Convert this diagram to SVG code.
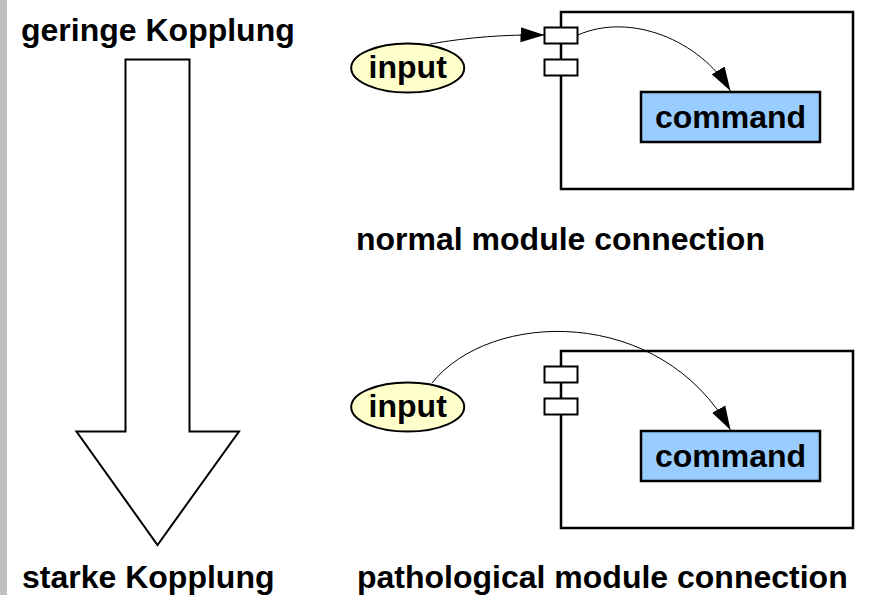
<svg xmlns="http://www.w3.org/2000/svg" width="872" height="595" viewBox="0 0 872 595">
  <style>
    .t { font-family: "Liberation Sans", Arial, sans-serif; font-weight: bold; font-size: 32px; fill: #000; }
    .mod { fill: #fff; stroke: #000; stroke-width: 2.5; }
    .port { fill: #fff; stroke: #000; stroke-width: 2; }
    .cmd { fill: #99ccff; stroke: #000; stroke-width: 2.5; }
    .inp { fill: #ffffcc; stroke: #000; stroke-width: 2; }
    .conn { fill: none; stroke: #000; stroke-width: 1; marker-end: url(#ah); }
  </style>
  <defs>
    <marker id="ah" markerUnits="userSpaceOnUse" markerWidth="24" markerHeight="16" refX="24" refY="8" orient="auto">
      <path d="M0,0.5 L24,8 L0,15.5 z" fill="#000"/>
    </marker>
  </defs>
  <rect x="0" y="0" width="872" height="595" fill="#fff"/>
  <rect x="0" y="0" width="7" height="595" fill="#c0c0c0"/>

  <g id="scale">
    <polygon points="125.5,59.5 189.5,59.5 189.5,431.5 239,431.5 157.5,545 76.5,431.5 125.5,431.5" fill="#fff" stroke="#000" stroke-width="2"/>
    <text class="t" x="21" y="41">geringe Kopplung</text>
    <text class="t" x="22" y="588">starke Kopplung</text>
  </g>

  <g id="module-normal">
    <rect class="mod" x="561" y="12" width="292" height="177"/>
    <rect class="port" x="544.5" y="27.5" width="33" height="16"/>
    <rect class="port" x="544.5" y="59.5" width="33" height="16"/>
  </g>
  <g id="command-normal">
    <rect class="cmd" x="641" y="92" width="179" height="50"/>
    <text class="t" x="730.5" y="128" text-anchor="middle">command</text>
  </g>
  <g id="input-normal">
    <ellipse class="inp" cx="407.7" cy="68" rx="56.5" ry="24.5"/>
    <text class="t" x="407.7" y="78" text-anchor="middle">input</text>
  </g>
  <text id="label-normal" class="t" x="356" y="250">normal module connection</text>

  <g id="module-pathological">
    <rect class="mod" x="561" y="351" width="292" height="177"/>
    <rect class="port" x="544.5" y="366.5" width="33" height="16"/>
    <rect class="port" x="544.5" y="398.5" width="33" height="16"/>
  </g>
  <g id="command-pathological">
    <rect class="cmd" x="641" y="431" width="179" height="50"/>
    <text class="t" x="730.5" y="467" text-anchor="middle">command</text>
  </g>
  <g id="input-pathological">
    <ellipse class="inp" cx="407.7" cy="407" rx="56.5" ry="24.5"/>
    <text class="t" x="407.7" y="417" text-anchor="middle">input</text>
  </g>
  <text id="label-pathological" class="t" x="357" y="588">pathological module connection</text>

  <g id="connectors">
    <path class="conn" d="M430,44 C470,37 505,34.5 544.5,35"/>
    <path class="conn" d="M578,35 C630,12 700,40 730.5,91"/>
    <path class="conn" d="M432,383 C490,310 660,305 730.5,430"/>
  </g>
</svg>
